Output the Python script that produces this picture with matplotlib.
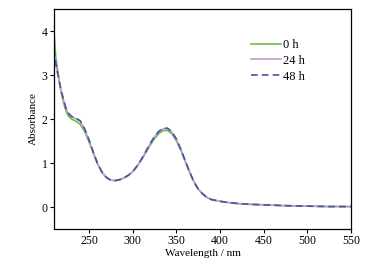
"""UV-Vis absorbance spectra at 0, 24 and 48 h."""

import matplotlib

matplotlib.use("Agg")
import matplotlib.pyplot as plt

plt.rcParams["font.family"] = ["Liberation Serif", "DejaVu Serif"]

wavelength = [210, 212, 215, 218, 220, 223, 226, 230, 235, 240, 245, 250, 255, 260,
              265, 270, 275, 280, 285, 290, 295, 300, 305, 310, 315, 320, 325, 330,
              335, 340, 345, 350, 355, 360, 365, 370, 375, 380, 385, 390, 400, 410,
              420, 435, 450, 475, 500, 525, 550]

abs_0h = [4.00, 3.40, 3.00, 2.62, 2.45, 2.22, 2.08, 2.00, 1.95, 1.88, 1.72, 1.49,
          1.22, 0.97, 0.79, 0.67, 0.61, 0.60, 0.62, 0.66, 0.72, 0.80, 0.92, 1.07,
          1.23, 1.40, 1.55, 1.67, 1.74, 1.74, 1.66, 1.51, 1.30, 1.05, 0.80, 0.58,
          0.41, 0.30, 0.22, 0.17, 0.13, 0.10, 0.08, 0.06, 0.05, 0.03, 0.02, 0.01, 0.01]

abs_24h = [3.56, 3.25, 2.95, 2.65, 2.50, 2.28, 2.13, 2.05, 2.01, 1.95, 1.77, 1.52,
           1.24, 0.98, 0.79, 0.67, 0.61, 0.60, 0.62, 0.66, 0.72, 0.80, 0.93, 1.08,
           1.25, 1.43, 1.59, 1.71, 1.78, 1.78, 1.70, 1.54, 1.32, 1.06, 0.81, 0.58,
           0.41, 0.30, 0.22, 0.17, 0.13, 0.10, 0.08, 0.06, 0.05, 0.03, 0.02, 0.01, 0.01]

abs_48h = [3.58, 3.27, 2.96, 2.66, 2.51, 2.29, 2.14, 2.06, 2.02, 1.96, 1.78, 1.53,
           1.25, 0.98, 0.79, 0.67, 0.61, 0.60, 0.62, 0.66, 0.72, 0.80, 0.93, 1.08,
           1.26, 1.44, 1.60, 1.72, 1.79, 1.79, 1.71, 1.55, 1.32, 1.06, 0.81, 0.58,
           0.41, 0.30, 0.22, 0.17, 0.13, 0.10, 0.08, 0.06, 0.05, 0.03, 0.02, 0.01, 0.01]

x_ticks = [250, 300, 350, 400, 450, 500, 550]
y_ticks = [0, 1, 2, 3, 4]

fig = plt.figure(figsize=(3.66, 2.71), dpi=100)
ax = fig.add_axes([54 / 366, 1 - 229 / 271, 297 / 366, 220 / 271])

ax.plot(wavelength, abs_0h, color="#6cbd3f", lw=1.2, label="0 h")
ax.plot(wavelength, abs_24h, color="#c89ad0", lw=1.2, label="24 h")
ax.plot(wavelength, abs_48h, color="#3d58a8", lw=1.2, ls=(0, (4, 2.5)), label="48 h")

ax.set_xlim(210, 550)
ax.set_ylim(-0.5, 4.5)
ax.set_xticks(x_ticks)
ax.set_yticks(y_ticks)
ax.tick_params(direction="out", length=3, width=0.8, labelsize=8.5, pad=1.5,
               top=False, right=False)
for spine in ax.spines.values():
    spine.set_linewidth(0.9)

ax.set_xlabel("Wavelength / nm", fontsize=8, labelpad=1)
ax.set_ylabel("Absorbance", fontsize=8, labelpad=3)

ax.legend(loc="upper left", bbox_to_anchor=(251 / 366, 1 - 39 / 271),
          bbox_transform=fig.transFigure, frameon=False, fontsize=9,
          handlelength=2.4, handletextpad=0.15, labelspacing=0.3,
          borderpad=0, borderaxespad=0)

fig.savefig("out.png", dpi=100)
